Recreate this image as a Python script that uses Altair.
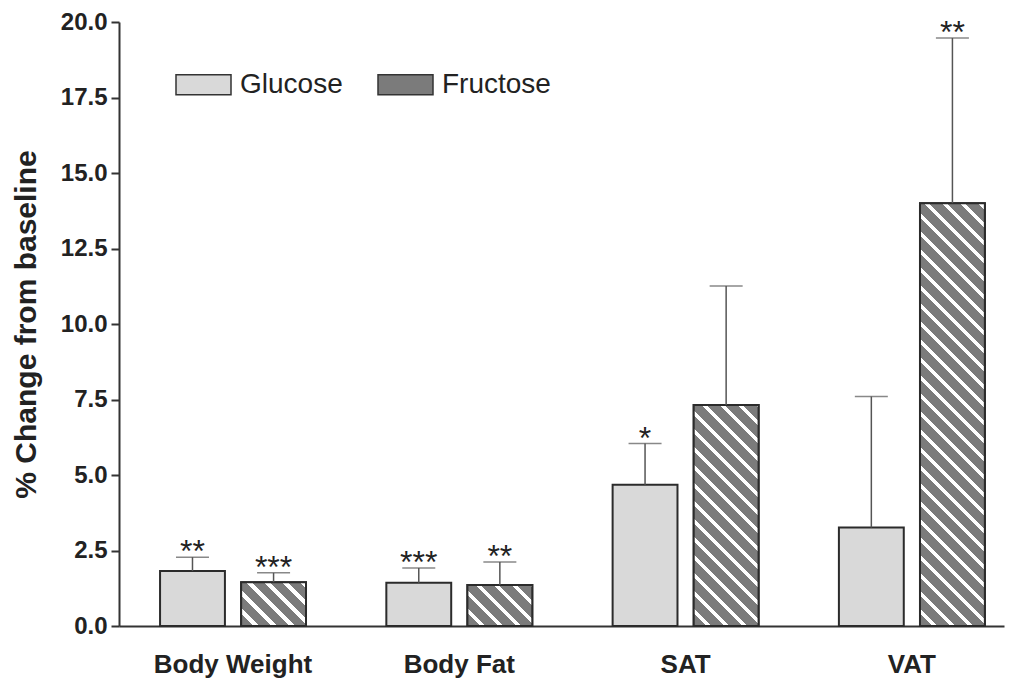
import altair as alt
import pandas as pd

# ---------------- data ----------------
categories = ["Body Weight", "Body Fat", "SAT", "VAT"]
groups = ["Glucose", "Fructose"]
glucose_mean = [1.82, 1.43, 4.68, 3.26]
glucose_upper = [2.28, 1.92, 6.04, 7.60]
fructose_mean = [1.45, 1.36, 7.32, 14.0]
fructose_upper = [1.76, 2.12, 11.26, 19.47]
glucose_stars = ["**", "***", "*", ""]
fructose_stars = ["***", "**", "", "**"]
y_ticks = [0, 2.5, 5, 7.5, 10, 12.5, 15, 17.5, 20]

rows = []
for i, c in enumerate(categories):
    rows.append(dict(cat=c, grp="Glucose", mean=glucose_mean[i], upper=glucose_upper[i], stars=glucose_stars[i]))
    rows.append(dict(cat=c, grp="Fructose", mean=fructose_mean[i], upper=fructose_upper[i], stars=fructose_stars[i]))
df = pd.DataFrame(rows)

# ---------------- layout ----------------
W, H = 885, 604
Y_MAX = 20
PI, PO, ALIGN = 0.355, 0.133, 0.682
SUB_PI = 0.2
FONT = "Liberation Sans"
DARK = "#7b7b7b"
LIGHT = "#d9d9d9"
EDGE = "#2b2b2b"

step = W / (len(categories) - PI + 2 * PO)
band = step * (1 - PI)
sub_step = band / (len(groups) - SUB_PI)
bar_w = sub_step * (1 - SUB_PI)
px_per_unit = H / Y_MAX


def hatch(w, h, period=18.0, white_frac=0.3):
    L = w + h
    k = (w + h) / (w * w + h * h)
    pp = period / L
    stops = []
    t = 0.0
    while t < 1.0:
        b = min(t + pp * (1 - white_frac), 1.0)
        c = min(t + pp, 1.0)
        stops += [(t, DARK), (b, DARK), (b, "#ffffff"), (c, "#ffffff")]
        t += pp
    return alt.LinearGradient(
        gradient="linear",
        stops=[alt.GradientStop(offset=round(o, 5), color=col) for o, col in stops],
        x1=0, y1=1, x2=k * w, y2=1 - k * h,
    )


x_enc = alt.X(
    "cat:N",
    sort=categories,
    scale=alt.Scale(domain=categories, paddingInner=PI, paddingOuter=PO, align=ALIGN),
    axis=alt.Axis(
        title=None, labelAngle=0, ticks=False, labelFont=FONT, labelFontSize=26,
        labelFontWeight="bold", labelColor="#222222", labelPadding=25,
        domainColor="#333333", domainWidth=2,
    ),
)
xo_enc = alt.XOffset("grp:N", sort=groups,
                     scale=alt.Scale(domain=groups, paddingInner=SUB_PI, paddingOuter=0))
y_scale = alt.Scale(domain=[0, Y_MAX], nice=False, zero=True)
y_enc = alt.Y(
    "mean:Q",
    scale=y_scale,
    axis=alt.Axis(
        title="% Change from baseline", values=y_ticks, format=".1f", grid=False,
        labelFont=FONT, labelFontSize=24, labelFontWeight="bold", labelColor="#222222",
        labelPadding=4, tickSize=8, tickWidth=2, tickColor="#333333",
        domainColor="#333333", domainWidth=2,
        titleFont=FONT, titleFontSize=30, titleFontWeight="bold", titleColor="#222222",
        titleAngle=270, titleAlign="center", titleBaseline="alphabetic",
        titleX=-84, titleY=H / 2,
    ),
)

base = alt.Chart(df)

bars = base.mark_bar(stroke=EDGE, strokeWidth=2).encode(
    x=x_enc, xOffset=xo_enc, y=y_enc,
    fill=alt.Fill(
        "grp:N", sort=groups,
        scale=alt.Scale(domain=groups, range=[LIGHT, DARK]),
        legend=alt.Legend(
            title=None, orient="none", legendX=56, legendY=34, direction="horizontal",
            symbolType="M-1,-0.3636H1V0.3636H-1Z", symbolSize=3025,
            symbolStrokeColor="#333333", symbolStrokeWidth=1.5, symbolOpacity=1,
            labelFont=FONT, labelFontSize=28, labelColor="#222222", labelOffset=8,
            columnPadding=32, padding=0,
        ),
    ),
)

hatch_layers = []
for i, c in enumerate(categories):
    h = fructose_mean[i] * px_per_unit
    hatch_layers.append(
        base.transform_filter(
            (alt.datum.cat == c) & (alt.datum.grp == "Fructose")
        ).mark_bar(fill=hatch(bar_w, h), stroke=EDGE, strokeWidth=2).encode(
            x=x_enc, xOffset=xo_enc, y=alt.Y("mean:Q", scale=y_scale)
        )
    )

err = base.mark_rule(color="#555555", strokeWidth=1.5).encode(
    x=x_enc, xOffset=xo_enc, y=alt.Y("mean:Q", scale=y_scale), y2="upper:Q"
)
caps = base.mark_tick(color="#555555", thickness=1.5, size=33, orient="horizontal").encode(
    x=x_enc, xOffset=xo_enc, y=alt.Y("upper:Q", scale=y_scale)
)
stars = base.mark_text(font=FONT, fontSize=32, color="#222222", baseline="alphabetic", dy=5).encode(
    x=x_enc, xOffset=xo_enc, y=alt.Y("upper:Q", scale=y_scale), text="stars:N"
)

chart = alt.layer(bars, *hatch_layers, err, caps, stars).properties(
    width=W, height=H,
    autosize=alt.AutoSizeParams(type="none"),
    padding={"left": 111, "top": 14, "right": 4, "bottom": 52},
).configure_view(stroke=None)

chart.save("out.html", embed_options={"renderer": "svg", "actions": False})
